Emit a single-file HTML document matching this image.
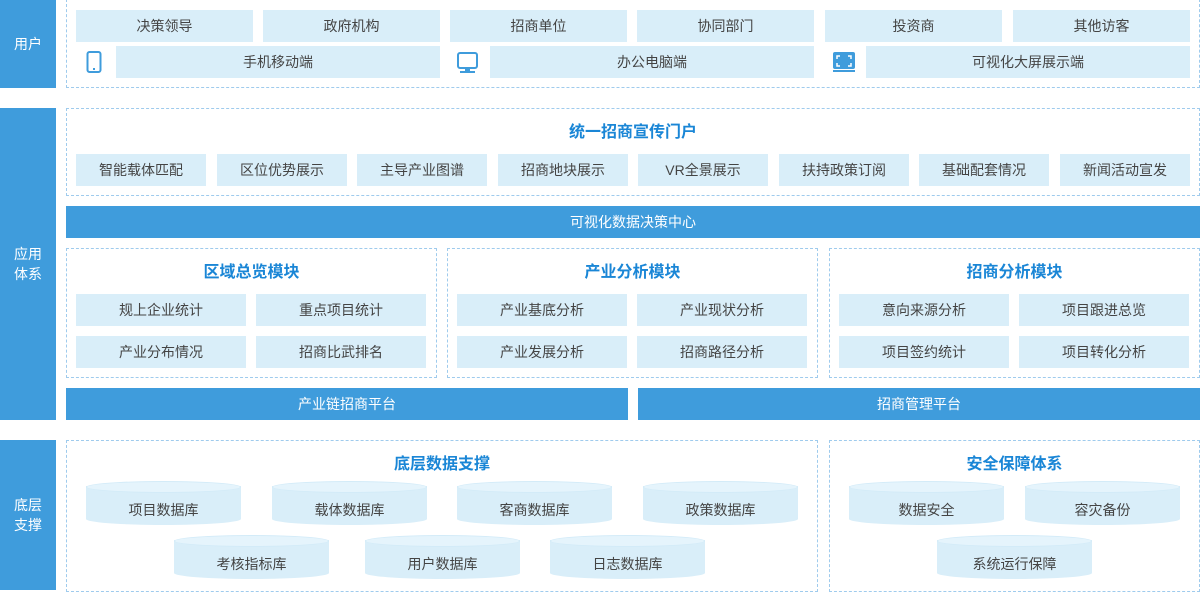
<!DOCTYPE html>
<html><head><meta charset="utf-8">
<style>
*{margin:0;padding:0;box-sizing:border-box}
body{width:1200px;height:590px;position:relative;background:#fff;font-family:"Liberation Sans","Noto Sans CJK SC",sans-serif;font-size:14px;color:#444;overflow:hidden}
.a{position:absolute}
.lab{background:#3f9cdc;color:#fff;display:flex;align-items:center;justify-content:center;text-align:center;line-height:20px;left:0;width:56px}
.d{border:1px dashed #9fcbed}
.b{background:#d9eef9;display:flex;align-items:center;justify-content:center;height:32px}
.bar{background:#3f9cdc;color:#fff;display:flex;align-items:center;justify-content:center;height:32px}
.t{color:#1a86d6;font-weight:bold;font-size:16px;text-align:center;width:100%}
.c{position:absolute;width:155px;height:44px}
.c .body{position:absolute;left:0;top:5px;width:155px;height:39px;background:#d9eef9;border-radius:0 0 50% 50%/0 0 6px 6px;display:flex;align-items:center;justify-content:center;padding-top:8px}
.c .top{position:absolute;left:0;top:0;width:155px;height:12px;background:#e5f4fc;border-radius:50%;border:1px solid #d3ebf8}
</style></head><body>
<div class="a lab" style="top:0;height:88px">用户</div>
<div class="a lab" style="top:108px;height:312px">应用<br>体系</div>
<div class="a lab" style="top:440px;height:150px">底层<br>支撑</div>

<div class="a d" style="left:66px;top:-1px;width:1134px;height:89px"></div>
<div class="a b" style="left:76px;top:10px;width:177px">决策领导</div>
<div class="a b" style="left:263px;top:10px;width:177px">政府机构</div>
<div class="a b" style="left:450px;top:10px;width:177px">招商单位</div>
<div class="a b" style="left:637px;top:10px;width:177px">协同部门</div>
<div class="a b" style="left:825px;top:10px;width:177px">投资商</div>
<div class="a b" style="left:1013px;top:10px;width:177px">其他访客</div>
<svg class="a" style="left:86px;top:51px" width="16" height="22"><rect x="1.5" y="1" width="13" height="20" rx="2" fill="none" stroke="#3f9cdc" stroke-width="2"/><rect x="7" y="17" width="2" height="2" fill="#3f9cdc"/></svg>
<div class="a b" style="left:116px;top:46px;width:324px">手机移动端</div>
<svg class="a" style="left:456px;top:51px" width="24" height="23"><rect x="2" y="2" width="19" height="15" rx="2" fill="none" stroke="#3f9cdc" stroke-width="2"/><rect x="9" y="17" width="5" height="3" fill="#3f9cdc"/><rect x="4" y="20" width="15" height="2" fill="#3f9cdc"/></svg>
<div class="a b" style="left:490px;top:46px;width:324px">办公电脑端</div>
<svg class="a" style="left:832px;top:51px" width="24" height="22"><rect x="1" y="1" width="22" height="17" rx="2" fill="#3f9cdc"/><path d="M5 8V5h3M16 5h3v3M19 12v3h-3M8 15H5v-3" stroke="#fff" stroke-width="1.5" fill="none"/><rect x="1" y="19" width="22" height="2" fill="#3f9cdc"/></svg>
<div class="a b" style="left:866px;top:46px;width:324px">可视化大屏展示端</div>

<div class="a d" style="left:66px;top:108px;width:1134px;height:88px"></div>
<div class="a t" style="left:66px;top:118px;width:1134px">统一招商宣传门户</div>
<div class="a b" style="left:76px;top:154px;width:130px">智能载体匹配</div>
<div class="a b" style="left:217px;top:154px;width:130px">区位优势展示</div>
<div class="a b" style="left:357px;top:154px;width:130px">主导产业图谱</div>
<div class="a b" style="left:498px;top:154px;width:130px">招商地块展示</div>
<div class="a b" style="left:638px;top:154px;width:130px">VR全景展示</div>
<div class="a b" style="left:779px;top:154px;width:130px">扶持政策订阅</div>
<div class="a b" style="left:919px;top:154px;width:130px">基础配套情况</div>
<div class="a b" style="left:1060px;top:154px;width:130px">新闻活动宣发</div>
<div class="a bar" style="left:66px;top:206px;width:1134px">可视化数据决策中心</div>

<div class="a d" style="left:66px;top:248px;width:371px;height:130px"></div>
<div class="a t" style="left:66px;top:258px;width:371px">区域总览模块</div>
<div class="a b" style="left:76px;top:294px;width:170px">规上企业统计</div>
<div class="a b" style="left:256px;top:294px;width:170px">重点项目统计</div>
<div class="a b" style="left:76px;top:336px;width:170px">产业分布情况</div>
<div class="a b" style="left:256px;top:336px;width:170px">招商比武排名</div>
<div class="a d" style="left:447px;top:248px;width:371px;height:130px"></div>
<div class="a t" style="left:447px;top:258px;width:371px">产业分析模块</div>
<div class="a b" style="left:457px;top:294px;width:170px">产业基底分析</div>
<div class="a b" style="left:637px;top:294px;width:170px">产业现状分析</div>
<div class="a b" style="left:457px;top:336px;width:170px">产业发展分析</div>
<div class="a b" style="left:637px;top:336px;width:170px">招商路径分析</div>
<div class="a d" style="left:829px;top:248px;width:371px;height:130px"></div>
<div class="a t" style="left:829px;top:258px;width:371px">招商分析模块</div>
<div class="a b" style="left:839px;top:294px;width:170px">意向来源分析</div>
<div class="a b" style="left:1019px;top:294px;width:170px">项目跟进总览</div>
<div class="a b" style="left:839px;top:336px;width:170px">项目签约统计</div>
<div class="a b" style="left:1019px;top:336px;width:170px">项目转化分析</div>
<div class="a bar" style="left:66px;top:388px;width:562px">产业链招商平台</div>
<div class="a bar" style="left:638px;top:388px;width:562px">招商管理平台</div>

<div class="a d" style="left:66px;top:440px;width:752px;height:152px"></div>
<div class="a t" style="left:66px;top:450px;width:752px">底层数据支撑</div>
<div class="c" style="left:86px;top:481px"><div class="body">项目数据库</div><div class="top"></div></div>
<div class="c" style="left:272px;top:481px"><div class="body">载体数据库</div><div class="top"></div></div>
<div class="c" style="left:457px;top:481px"><div class="body">客商数据库</div><div class="top"></div></div>
<div class="c" style="left:643px;top:481px"><div class="body">政策数据库</div><div class="top"></div></div>
<div class="c" style="left:174px;top:535px"><div class="body">考核指标库</div><div class="top"></div></div>
<div class="c" style="left:365px;top:535px"><div class="body">用户数据库</div><div class="top"></div></div>
<div class="c" style="left:550px;top:535px"><div class="body">日志数据库</div><div class="top"></div></div>
<div class="a d" style="left:829px;top:440px;width:371px;height:152px"></div>
<div class="a t" style="left:829px;top:450px;width:371px">安全保障体系</div>
<div class="c" style="left:849px;top:481px"><div class="body">数据安全</div><div class="top"></div></div>
<div class="c" style="left:1025px;top:481px"><div class="body">容灾备份</div><div class="top"></div></div>
<div class="c" style="left:937px;top:535px"><div class="body">系统运行保障</div><div class="top"></div></div>
</body></html>
